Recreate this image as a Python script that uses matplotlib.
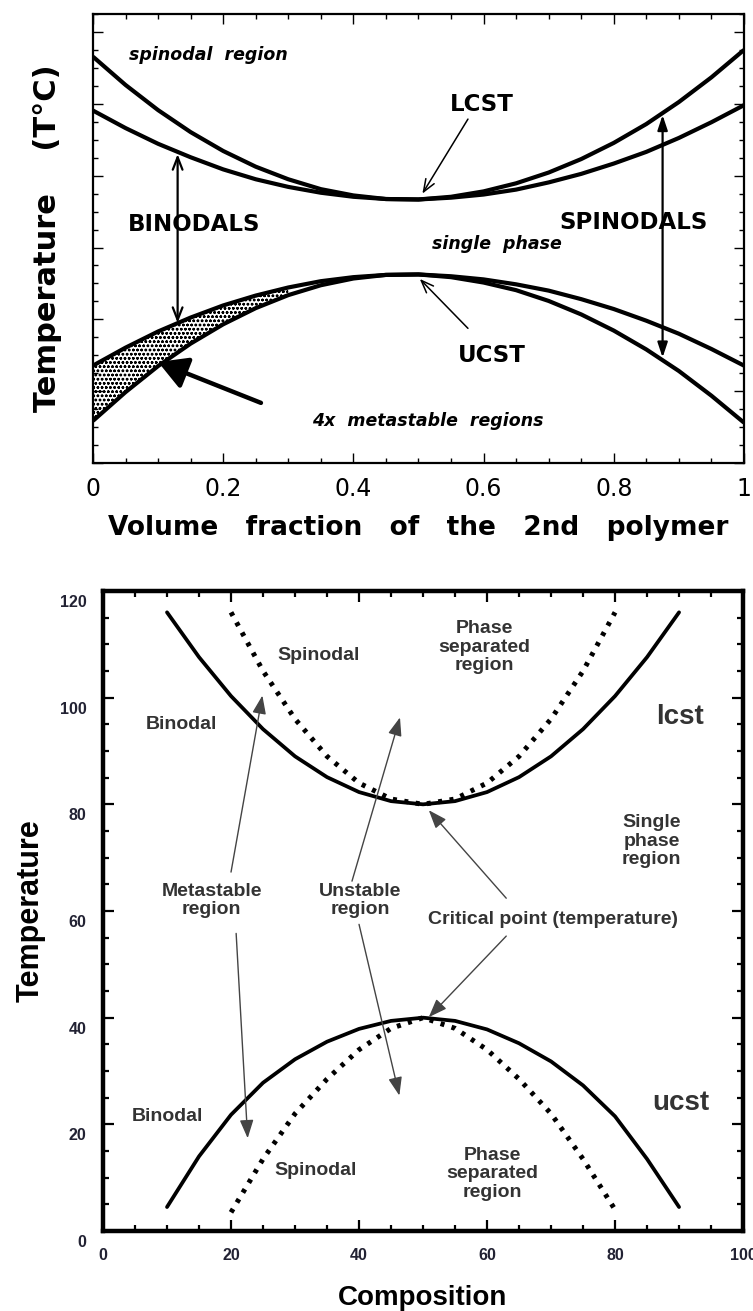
import matplotlib
matplotlib.use('Agg')
import matplotlib.pyplot as plt
import matplotlib.transforms as mtransforms
from matplotlib.ticker import MultipleLocator, NullFormatter

plt.rcParams['hatch.linewidth'] = 0.7

# ---- upper diagram: volume fraction vs temperature (arbitrary units) ----
phi = [0.00, 0.05, 0.10, 0.15, 0.20, 0.25, 0.30, 0.35, 0.40, 0.45, 0.50,
       0.55, 0.60, 0.65, 0.70, 0.75, 0.80, 0.85, 0.90, 0.95, 1.00]
lcst_spinodal = [0.905, 0.842, 0.786, 0.737, 0.695, 0.660, 0.632, 0.610, 0.596, 0.588, 0.587,
                 0.593, 0.605, 0.623, 0.647, 0.677, 0.713, 0.755, 0.804, 0.859, 0.920]
lcst_binodal = [0.785, 0.746, 0.711, 0.681, 0.654, 0.632, 0.615, 0.602, 0.593, 0.588, 0.587,
                0.591, 0.598, 0.609, 0.625, 0.644, 0.667, 0.693, 0.724, 0.759, 0.797]
ucst_binodal = [0.217, 0.257, 0.293, 0.324, 0.351, 0.373, 0.391, 0.405, 0.414, 0.419, 0.420,
                0.416, 0.409, 0.398, 0.384, 0.365, 0.343, 0.317, 0.288, 0.254, 0.217]
ucst_spinodal = [0.094, 0.158, 0.216, 0.266, 0.309, 0.345, 0.374, 0.396, 0.411, 0.419, 0.420,
                 0.414, 0.402, 0.385, 0.361, 0.331, 0.295, 0.253, 0.205, 0.150, 0.090]
shade_upto = 0.30
top_xticks = [0, 0.2, 0.4, 0.6, 0.8, 1]
top_xticklabels = ['0', '0.2', '0.4', '0.6', '0.8', '1']

# ---- lower diagram: composition vs temperature ----
comp_bin = [10, 15, 20, 25, 30, 35, 40, 45, 50, 55, 60, 65, 70, 75, 80, 85, 90]
lcst_bin_T = [116.0, 107.6, 100.3, 94.1, 89.0, 85.1, 82.3, 80.6, 80.0,
              80.6, 82.3, 85.1, 89.0, 94.1, 100.3, 107.6, 116.0]
ucst_bin_T = [4.5, 14.0, 21.8, 27.8, 32.2, 35.5, 37.9, 39.4, 40.0,
              39.4, 37.8, 35.2, 31.8, 27.3, 21.5, 13.5, 4.5]
comp_spin = [20, 25, 30, 35, 40, 45, 50, 55, 60, 65, 70, 75, 80]
lcst_spin_T = [116.0, 105.0, 96.0, 89.0, 84.0, 81.0, 80.0, 81.0, 84.0, 89.0, 96.0, 105.0, 116.0]
ucst_spin_T = [3.5, 13.5, 22.0, 28.5, 34.0, 38.0, 40.0, 38.0, 34.0, 28.5, 22.0, 13.5, 4.0]

fig = plt.figure(figsize=(7.53, 13.11), dpi=100)

# =================== upper panel ===================
ax1 = fig.add_axes([0.1235, 0.6468, 0.8645, 0.3425])
lw = 3.0
for curve in (lcst_spinodal, lcst_binodal, ucst_binodal, ucst_spinodal):
    ax1.plot(phi, curve, color='black', lw=lw, solid_capstyle='butt', solid_joinstyle='round')

mask = [p <= shade_upto for p in phi]
ax1.fill_between(phi, ucst_spinodal, ucst_binodal, where=mask, facecolor='white',
                 edgecolor='black', hatch='oooo', linewidth=0)

ax1.set_xlim(0, 1)
ax1.set_ylim(0, 1)
ax1.set_xticks(top_xticks)
ax1.set_xticklabels(top_xticklabels, fontfamily='DejaVu Sans', fontsize=17)
ax1.xaxis.set_minor_locator(MultipleLocator(0.05))
ax1.yaxis.set_major_locator(MultipleLocator(0.16))
ax1.yaxis.set_minor_locator(MultipleLocator(0.04))
ax1.yaxis.set_major_formatter(NullFormatter())
ax1.tick_params(which='both', direction='in', top=True, right=True, width=1.0)
ax1.tick_params(which='major', length=7, pad=10)
ax1.tick_params(which='minor', length=3.5)
for s in ax1.spines.values():
    s.set_linewidth(1.6)

ax1.set_xlabel('Volume   fraction   of   the   2nd   polymer', fontfamily='DejaVu Sans',
               fontweight='bold', fontsize=19, labelpad=10)
ax1.set_ylabel('Temperature    (T°C)', fontfamily='DejaVu Sans', fontweight='bold',
               fontsize=22, labelpad=12)

it = dict(fontfamily='DejaVu Sans', fontweight='bold', style='italic', fontsize=12.5)
bd = dict(fontfamily='DejaVu Sans', fontweight='bold', fontsize=16.5)
ax1.text(0.055, 0.908, 'spinodal  region', ha='left', va='center', **it)
ax1.text(0.62, 0.487, 'single  phase', ha='center', va='center', **it)
ax1.text(0.515, 0.094, '4x  metastable  regions', ha='center', va='center', **it)
ax1.text(0.598, 0.798, 'LCST', ha='center', va='center', **bd)
ax1.text(0.612, 0.24, 'UCST', ha='center', va='center', **bd)
ax1.text(0.155, 0.531, 'BINODALS', ha='center', va='center', **bd)
ax1.text(0.83, 0.535, 'SPINODALS', ha='center', va='center', **bd)

dbl = dict(arrowstyle='<->,head_length=0.9,head_width=0.35', lw=1.6, color='black',
           shrinkA=0, shrinkB=0)
ax1.annotate('', xy=(0.13, 0.312), xytext=(0.13, 0.688), arrowprops=dbl)
dbl2 = dict(arrowstyle='<|-|>,head_length=0.9,head_width=0.3', lw=1.6, color='black',
            shrinkA=0, shrinkB=0)
ax1.annotate('', xy=(0.875, 0.235), xytext=(0.875, 0.775), arrowprops=dbl2)
thin = dict(arrowstyle='->,head_length=0.9,head_width=0.35', lw=1.1, color='black',
            shrinkA=0, shrinkB=0)
ax1.annotate('', xy=(0.506, 0.600), xytext=(0.576, 0.766), arrowprops=thin)
ax1.annotate('', xy=(0.502, 0.410), xytext=(0.576, 0.300), arrowprops=thin)
ax1.annotate('', xy=(0.100, 0.225), xytext=(0.258, 0.134),
             arrowprops=dict(arrowstyle='-|>,head_length=0.8,head_width=0.45', lw=3.2,
                             color='black', shrinkA=0, shrinkB=0, mutation_scale=22))

# =================== lower panel ===================
ax2 = fig.add_axes([0.1368, 0.0610, 0.8500, 0.4882])
ax2.plot(comp_bin, lcst_bin_T, color='black', lw=2.7, solid_capstyle='round',
         solid_joinstyle='round')
ax2.plot(comp_bin, ucst_bin_T, color='black', lw=2.7, solid_capstyle='round',
         solid_joinstyle='round')
ax2.plot(comp_spin, lcst_spin_T, color='black', lw=3.6, linestyle=(0, (0.8, 1.5)))
ax2.plot(comp_spin, ucst_spin_T, color='black', lw=3.6, linestyle=(0, (0.8, 1.5)))

ax2.set_xlim(0, 100)
ax2.set_ylim(0, 120)
ax2.xaxis.set_major_locator(MultipleLocator(20))
ax2.xaxis.set_minor_locator(MultipleLocator(5))
ax2.yaxis.set_major_locator(MultipleLocator(20))
ax2.yaxis.set_minor_locator(MultipleLocator(5))
ax2.tick_params(which='both', direction='in', top=True, right=True, width=1.6,
                labelsize=11.5, labelcolor='#222233')
ax2.tick_params(which='major', length=8, pad=12)
ax2.tick_params(which='minor', length=4.5)
# y tick labels in the original sit a little below their ticks
shift = mtransforms.ScaledTranslation(0, -0.10, fig.dpi_scale_trans)
for lbl in ax2.get_yticklabels():
    lbl.set_transform(lbl.get_transform() + shift)
for lbl in ax2.get_xticklabels() + ax2.get_yticklabels():
    lbl.set_fontfamily('Liberation Sans')
    lbl.set_fontweight('bold')
for s in ax2.spines.values():
    s.set_linewidth(3.2)

ax2.set_xlabel('Composition', fontfamily='Liberation Sans', fontweight='bold',
               fontsize=20, labelpad=16)
ax2.set_ylabel('Temperature', fontfamily='Liberation Sans', fontweight='bold',
               fontsize=22, labelpad=10)

tx = dict(fontfamily='Liberation Sans', fontweight='bold', fontsize=14, color='#333333',
          ha='center', va='center', linespacing=1.1)
ax2.text(33.7, 108.0, 'Spinodal', **tx)
ax2.text(59.6, 109.5, 'Phase\nseparated\nregion', **tx)
ax2.text(12.3, 95.0, 'Binodal', **tx)
ax2.text(85.7, 73.1, 'Single\nphase\nregion', **tx)
ax2.text(17.0, 62.0, 'Metastable\nregion', **tx)
ax2.text(40.2, 62.0, 'Unstable\nregion', **tx)
ax2.text(70.3, 58.4, 'Critical point (temperature)', **tx)
ax2.text(10.0, 21.4, 'Binodal', **tx)
ax2.text(33.2, 11.4, 'Spinodal', **tx)
ax2.text(60.8, 10.7, 'Phase\nseparated\nregion', **tx)
big = dict(fontfamily='Liberation Sans', fontweight='bold', fontsize=20, color='#333333',
           ha='center', va='center')
ax2.text(90.2, 96.3, 'lcst', **big)
ax2.text(90.2, 24.0, 'ucst', **big)

ar = dict(arrowstyle='-|>,head_length=0.8,head_width=0.3', lw=1.0, color='#444444',
          shrinkA=0, shrinkB=0, mutation_scale=14)
ax2.annotate('', xy=(24.9, 100.4), xytext=(20.0, 67.3), arrowprops=ar)
ax2.annotate('', xy=(22.6, 17.4), xytext=(20.8, 55.8), arrowprops=ar)
ax2.annotate('', xy=(46.4, 96.3), xytext=(38.9, 65.6), arrowprops=ar)
ax2.annotate('', xy=(46.3, 25.4), xytext=(40.0, 57.5), arrowprops=ar)
ax2.annotate('', xy=(50.9, 78.9), xytext=(63.0, 62.4), arrowprops=ar)
ax2.annotate('', xy=(50.9, 40.1), xytext=(63.0, 55.3), arrowprops=ar)

fig.savefig('out.png', dpi=100)
